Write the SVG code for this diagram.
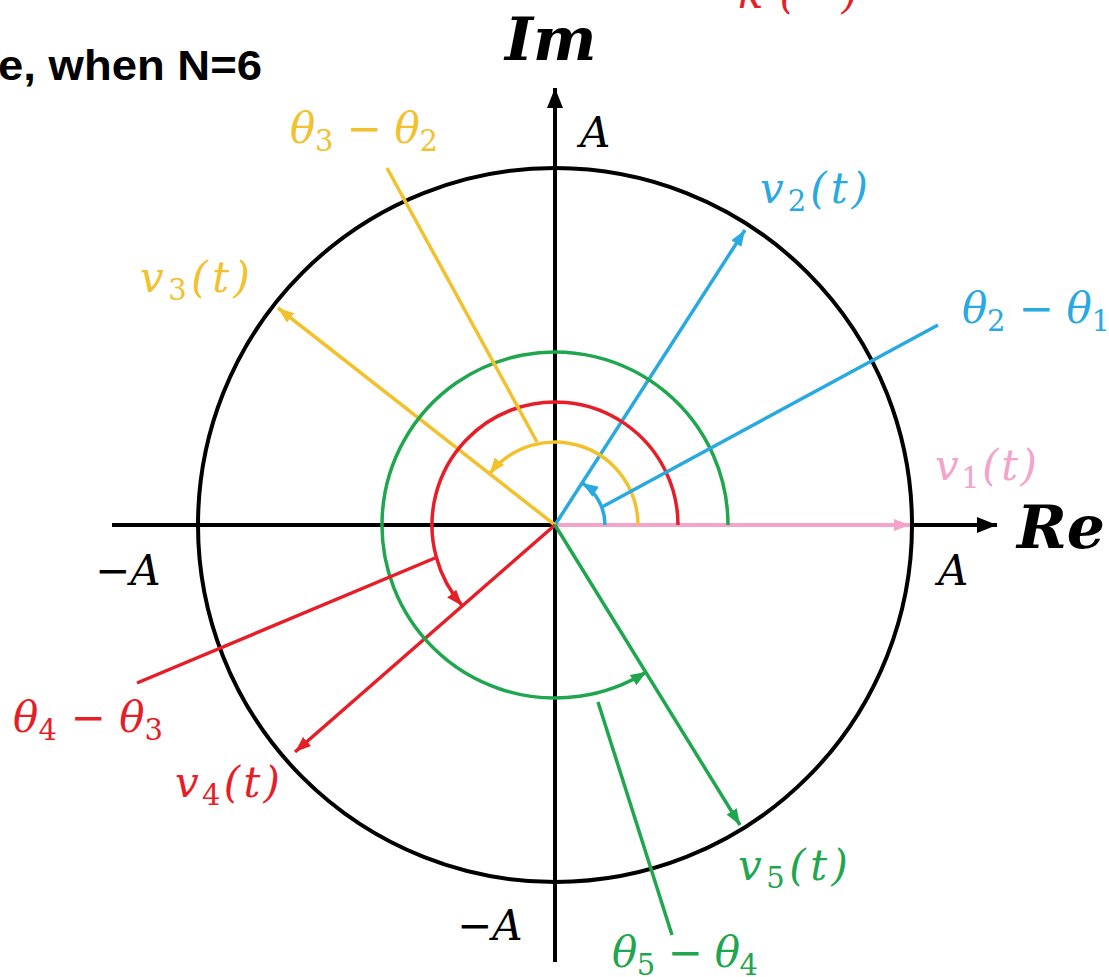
<svg xmlns="http://www.w3.org/2000/svg" width="1109" height="977" viewBox="0 0 1109 977">
<style>
.ax{stroke:#000;stroke-width:4;fill:none}
.m{font-family:"DejaVu Serif","Liberation Serif",serif;font-style:italic;font-size:42px}
.big{font-family:"DejaVu Serif","Liberation Serif",serif;font-style:italic;font-weight:bold;font-size:60px;fill:#000}
.sub{font-size:29px;font-style:normal}
.blue{stroke:#29a9e1;fill:none;stroke-width:3.5}
.yel{stroke:#f2c12e;fill:none;stroke-width:3.5}
.red{stroke:#e61e28;fill:none;stroke-width:3.5}
.grn{stroke:#1fa64f;fill:none;stroke-width:3.5}
.pnk{stroke:#f4a3cb;fill:none;stroke-width:4}
</style>
<defs>
<marker id="ak" markerUnits="userSpaceOnUse" markerWidth="22" markerHeight="18" refX="20" refY="8" orient="auto"><path d="M0,0 L20,8 L0,16 z" fill="#000"/></marker>
<marker id="ab" markerUnits="userSpaceOnUse" markerWidth="18" markerHeight="14" refX="16" refY="6" orient="auto"><path d="M0,0 L16,6 L0,12 z" fill="#29a9e1"/></marker>
<marker id="ay" markerUnits="userSpaceOnUse" markerWidth="18" markerHeight="14" refX="16" refY="6" orient="auto"><path d="M0,0 L16,6 L0,12 z" fill="#f2c12e"/></marker>
<marker id="ar" markerUnits="userSpaceOnUse" markerWidth="18" markerHeight="14" refX="16" refY="6" orient="auto"><path d="M0,0 L16,6 L0,12 z" fill="#e61e28"/></marker>
<marker id="ag" markerUnits="userSpaceOnUse" markerWidth="18" markerHeight="14" refX="16" refY="6" orient="auto"><path d="M0,0 L16,6 L0,12 z" fill="#1fa64f"/></marker>
<marker id="ap" markerUnits="userSpaceOnUse" markerWidth="18" markerHeight="14" refX="16" refY="6" orient="auto"><path d="M0,0 L16,6 L0,12 z" fill="#f4a3cb"/></marker>
</defs>
<rect width="1109" height="977" fill="#fff"/>

<text x="-2" y="80" font-family="Liberation Sans, Arial, sans-serif" font-weight="bold" font-size="42" fill="#000" textLength="264" lengthAdjust="spacingAndGlyphs">e, when N=6</text>
<text x="738" y="8" class="m" fill="#e61e28" font-size="46" textLength="120">k( )</text>

<g id="frame">
<circle cx="555" cy="525" r="357" class="ax"/>
<line x1="112" y1="525" x2="997" y2="525" class="ax" marker-end="url(#ak)"/>
<line x1="555" y1="962" x2="555" y2="88" class="ax" marker-end="url(#ak)"/>
</g>

<g id="connectors">
<line x1="555" y1="525" x2="910" y2="525" class="pnk" marker-end="url(#ap)"/>
<line x1="555" y1="525" x2="745" y2="230" class="blue" marker-end="url(#ab)"/>
<line x1="555" y1="525" x2="278" y2="308" class="yel" marker-end="url(#ay)"/>
<line x1="555" y1="525" x2="295" y2="752" class="red" marker-end="url(#ar)"/>
<line x1="555" y1="525" x2="740" y2="825" class="grn" marker-end="url(#ag)"/>

<path d="M728,525 A173,173 0 1 0 646.7,671.7" class="grn" marker-end="url(#ag)"/>
<path d="M678,525 A123,123 0 1 0 462.2,605.7" class="red" marker-end="url(#ar)"/>
<path d="M638,525 A83,83 0 0 0 489.6,473.9" class="yel" marker-end="url(#ay)"/>
<path d="M605,525 A50,50 0 0 0 582.2,483" class="blue" marker-end="url(#ab)"/>

<line x1="387" y1="168" x2="537" y2="442" class="yel"/>
<line x1="938" y1="325" x2="602" y2="507" class="blue"/>
<line x1="137" y1="683" x2="435" y2="558" class="red"/>
<line x1="598" y1="702" x2="672" y2="935" class="grn"/>
</g>

<g id="labels">
<text x="505" y="60" class="big" font-size="64">Im</text>
<text x="1017" y="548" class="big">Re</text>
<text x="580" y="147" class="m" fill="#000" font-size="44">A</text>
<text x="938" y="585" class="m" fill="#000" font-size="44">A</text>
<text x="95" y="585" class="m" fill="#000" font-size="44">−A</text>
<text x="457" y="940" class="m" fill="#000" font-size="44">−A</text>

<text x="760" y="203" class="m" fill="#29a9e1" textLength="108">v<tspan class="sub" dy="8">2</tspan><tspan dy="-8">(t)</tspan></text>
<text x="962" y="323" class="m" fill="#29a9e1" textLength="148">θ<tspan class="sub" dy="8">2</tspan><tspan dy="-8"> − θ</tspan><tspan class="sub" dy="8">1</tspan></text>
<text x="140" y="292" class="m" fill="#f2c12e" textLength="110">v<tspan class="sub" dy="8">3</tspan><tspan dy="-8">(t)</tspan></text>
<text x="290" y="143" class="m" fill="#f2c12e" textLength="148">θ<tspan class="sub" dy="8">3</tspan><tspan dy="-8"> − θ</tspan><tspan class="sub" dy="8">2</tspan></text>
<text x="935" y="480" class="m" fill="#f4a3cb" textLength="102">v<tspan class="sub" dy="8">1</tspan><tspan dy="-8">(t)</tspan></text>
<text x="13" y="732" class="m" fill="#e61e28" textLength="150">θ<tspan class="sub" dy="8">4</tspan><tspan dy="-8"> − θ</tspan><tspan class="sub" dy="8">3</tspan></text>
<text x="175" y="797" class="m" fill="#e61e28" textLength="105">v<tspan class="sub" dy="8">4</tspan><tspan dy="-8">(t)</tspan></text>
<text x="738" y="880" class="m" fill="#1fa64f" textLength="110">v<tspan class="sub" dy="8">5</tspan><tspan dy="-8">(t)</tspan></text>
<text x="612" y="967" class="m" fill="#1fa64f" textLength="146">θ<tspan class="sub" dy="8">5</tspan><tspan dy="-8"> − θ</tspan><tspan class="sub" dy="8">4</tspan></text>
</g>
</svg>
